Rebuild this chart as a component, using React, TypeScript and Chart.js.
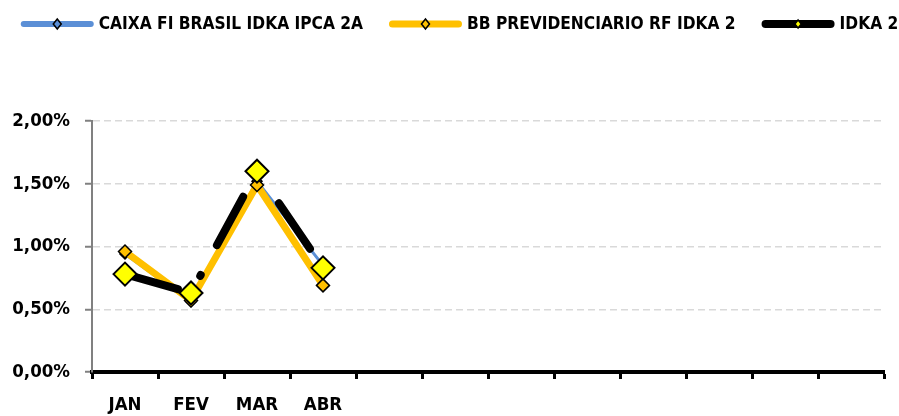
import React, { useEffect, useRef } from 'react';
import { Chart, registerables } from 'chart.js';

Chart.register(...registerables);

const months = ['JAN', 'FEV', 'MAR', 'ABR', '', '', '', '', '', '', '', ''];
const seriesNames = ['CAIXA FI BRASIL IDKA IPCA 2A', 'BB PREVIDENCIARIO RF IDKA 2', 'IDKA 2'];
const caixaValues = [0.94, 0.56, 1.52, 0.85];
const bbValues = [0.96, 0.57, 1.49, 0.69];
const idkaValues = [0.78, 0.63, 1.6, 0.83];
const yMin = 0;
const yMax = 2;
const yStep = 0.5;

const FONT = "'Liberation Sans Narrow', 'DejaVu Sans Condensed', Lato, sans-serif";

const fmtPct = (v: number) => v.toFixed(2).replace('.', ',') + '%';

const lineLegend = {
  id: 'lineLegend',
  afterDraw(chart: any) {
    const ctx = chart.ctx as CanvasRenderingContext2D;
    ctx.save();
    ctx.font = `bold 17.2px ${FONT}`;
    const visLen = 73;
    const gap = 5;
    const itemGap = 26;
    const items = chart.data.datasets.map((ds: any) => ({ ds, w: ctx.measureText(ds.label).width }));
    const total = items.reduce((s: number, it: any) => s + visLen + gap + it.w, 0) + itemGap * (items.length - 1);
    let x = (chart.width - total) / 2 + 10;
    const y = 24;
    items.forEach((it: any) => {
      const ds = it.ds;
      const lw = ds.legendLineWidth;
      ctx.strokeStyle = ds.borderColor;
      ctx.lineWidth = lw;
      ctx.lineCap = 'round';
      ctx.setLineDash([]);
      ctx.beginPath();
      ctx.moveTo(x + lw / 2, y);
      ctx.lineTo(x + visLen - lw / 2, y);
      ctx.stroke();
      const cx = x + visLen / 2;
      const r = ds.legendMarker;
      ctx.beginPath();
      ctx.moveTo(cx, y - r);
      ctx.lineTo(cx + r * 0.8, y);
      ctx.lineTo(cx, y + r);
      ctx.lineTo(cx - r * 0.8, y);
      ctx.closePath();
      ctx.fillStyle = ds.pointBackgroundColor;
      ctx.fill();
      ctx.lineWidth = 1.5;
      ctx.strokeStyle = '#000';
      ctx.stroke();
      ctx.fillStyle = '#000';
      ctx.textBaseline = 'middle';
      ctx.textAlign = 'left';
      ctx.fillText(ds.label, x + visLen + gap, y + 1);
      x += visLen + gap + it.w + itemGap;
    });
    ctx.restore();
  },
};

export default function App() {
  const ref = useRef<HTMLCanvasElement | null>(null);
  useEffect(() => {
    document.body.style.margin = '0';
    if (!ref.current) return;
    const chart = new Chart(ref.current, {
      type: 'line',
      data: {
        labels: months,
        datasets: [
          {
            label: seriesNames[0],
            data: caixaValues,
            borderColor: '#5B8FD6',
            borderWidth: 3,
            pointStyle: 'rectRot',
            pointRadius: 5,
            pointBackgroundColor: '#5B8FD6',
            pointBorderColor: '#000',
            pointBorderWidth: 1.5,
            order: 2,
            legendLineWidth: 6,
            legendMarker: 5,
          } as any,
          {
            label: seriesNames[1],
            data: bbValues,
            borderColor: '#FFC000',
            borderWidth: 7,
            borderCapStyle: 'round',
            pointStyle: 'rectRot',
            pointRadius: 6.5,
            pointBackgroundColor: '#FFC000',
            pointBorderColor: '#000',
            pointBorderWidth: 1.5,
            order: 1,
            legendLineWidth: 7,
            legendMarker: 5,
          } as any,
          {
            label: seriesNames[2],
            data: idkaValues,
            borderColor: '#000000',
            borderWidth: 8,
            borderCapStyle: 'round',
            borderDash: [55, 33, 1, 34],
            pointStyle: 'rectRot',
            pointRadius: 11.5,
            pointBackgroundColor: '#FFFF00',
            pointBorderColor: '#000',
            pointBorderWidth: 2,
            order: 0,
            legendLineWidth: 8,
            legendMarker: 4,
          } as any,
        ],
      },
      options: {
        responsive: false,
        animation: false,
        events: [],
        layout: { padding: { top: 121, right: 15, left: 0, bottom: 0 } },
        plugins: { legend: { display: false }, tooltip: { enabled: false } },
        scales: {
          x: {
            offset: true,
            afterFit: (s: any) => { s.height = 44; },
            grid: {
              offset: true,
              drawOnChartArea: false,
              drawTicks: true,
              tickLength: 7,
              tickWidth: 3,
              tickColor: '#000',
            },
            border: { color: '#000', width: 4 },
            ticks: {
              autoSkip: false,
              maxRotation: 0,
              padding: 15,
              color: '#000',
              font: { family: FONT, size: 18.5, weight: 'bold' },
            },
          },
          y: {
            min: yMin,
            max: yMax,
            afterFit: (s: any) => { s.width = 92; },
            grid: {
              color: '#d9d9d9',
              lineWidth: 1.5,
              tickColor: '#808080',
              tickLength: 7,
              tickWidth: 2,
              tickBorderDash: [],
            },
            border: { color: '#808080', width: 2, dash: [7, 4] },
            ticks: {
              stepSize: yStep,
              padding: 15,
              color: '#000',
              font: { family: FONT, size: 18.5, weight: 'bold' },
              callback: (v: any) => fmtPct(Number(v)),
            },
          },
        },
      },
      plugins: [lineLegend],
    });
    return () => chart.destroy();
  }, []);
  return (
    <div style={{ width: 899, height: 416 }}>
      <canvas ref={ref} width={899} height={416} style={{ display: 'block', width: 899, height: 416 }} />
    </div>
  );
}
